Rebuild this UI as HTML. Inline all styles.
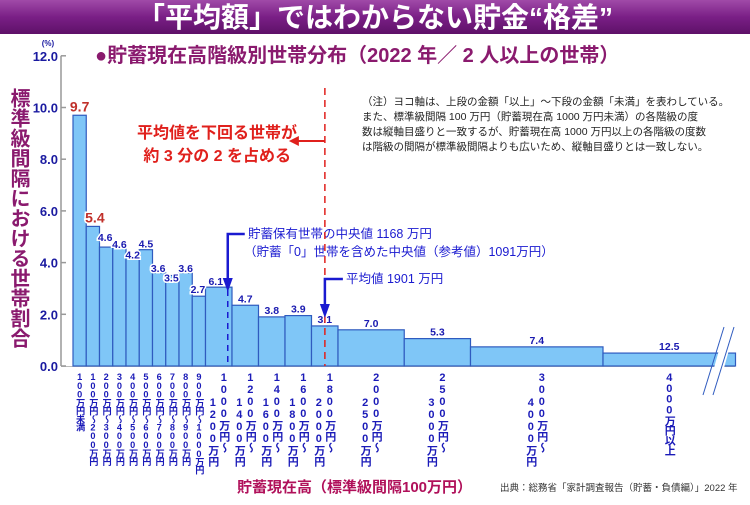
<!DOCTYPE html>
<html><head><meta charset="utf-8"><style>
body{margin:0;width:750px;height:500px;background:#fff;overflow:hidden;font-family:"Liberation Sans","Noto Sans CJK JP",sans-serif;}
svg text{font-family:"Liberation Sans","Noto Sans CJK JP",sans-serif;}
</style></head><body>
<svg id="chart" width="750" height="500" viewBox="0 0 750 500" xmlns="http://www.w3.org/2000/svg">
<defs>
<linearGradient id="bg" x1="0" y1="0" x2="0" y2="1"><stop offset="0" stop-color="#a04aa8"/><stop offset="0.5" stop-color="#7a1f86"/><stop offset="1" stop-color="#5e1168"/></linearGradient>
</defs>
<rect x="0" y="0" width="750" height="34" fill="url(#bg)"/>
<text x="375" y="27" text-anchor="middle" font-size="28" font-weight="bold" fill="#fff">「平均額」ではわからない貯金“格差”</text>
<text x="95" y="62" font-size="20" font-weight="bold" fill="#8a1a6e">●貯蓄現在高階級別世帯分布（2022 年／ 2 人以上の世帯）</text>
<text x="48" y="46" font-size="8" font-weight="bold" fill="#1a1aa0" text-anchor="middle">(%)</text>
<text x="18" y="88" font-size="20" font-weight="bold" fill="#8a1a6e" style="writing-mode:vertical-rl;letter-spacing:0px">標準級間隔における世帯割合</text>
<g font-size="10.5" fill="#222">
<text x="362" y="105">（注）ヨコ軸は、上段の金額「以上」～下段の金額「未満」を表わしている。</text>
<text x="362" y="120">また、標準級間隔 100 万円（貯蓄現在高 1000 万円未満）の各階級の度</text>
<text x="362" y="135">数は縦軸目盛りと一致するが、貯蓄現在高 1000 万円以上の各階級の度数</text>
<text x="362" y="150">は階級の間隔が標準級間隔よりも広いため、縦軸目盛りとは一致しない。</text>
</g>
<g id="axes"></g>
<g id="bars"></g>
<g id="labels"></g>
<g id="xlabels"></g>
<g>
<text x="297" y="138" text-anchor="end" font-size="16" font-weight="bold" fill="#e0201c">平均値を下回る世帯が</text>
<text x="291" y="161" text-anchor="end" font-size="16" font-weight="bold" fill="#e0201c">約 3 分の 2 を占める</text>
<text x="248" y="238" font-size="12.5" fill="#1a1ad0">貯蓄保有世帯の中央値 1168 万円</text>
<text x="244" y="256" font-size="12.5" fill="#1a1ad0">（貯蓄「0」世帯を含めた中央値（参考値）1091万円）</text>
<text x="346" y="283" font-size="12.5" fill="#1a1ad0">平均値 1901 万円</text>
</g>
<text x="237" y="492" font-size="15" font-weight="bold" fill="#b0105a">貯蓄現在高（標準級間隔100万円）</text>
<text x="500" y="491" font-size="9.5" fill="#333">出典：総務省「家計調査報告（貯蓄・負債編）」2022 年</text>
</svg>
<script>
const categories=["100万円未満","100万円〜200万円","200万円〜300万円","300万円〜400万円","400万円〜500万円","500万円〜600万円","600万円〜700万円","700万円〜800万円","800万円〜900万円","900万円〜1000万円","1000万円〜1200万円","1200万円〜1400万円","1400万円〜1600万円","1600万円〜1800万円","1800万円〜2000万円","2000万円〜2500万円","2500万円〜3000万円","3000万円〜4000万円","4000万円以上"];
const lows=[0,100,200,300,400,500,600,700,800,900,1000,1200,1400,1600,1800,2000,2500,3000,4000];
const highs=[100,200,300,400,500,600,700,800,900,1000,1200,1400,1600,1800,2000,2500,3000,4000,5000];
const values=[9.7,5.4,4.6,4.6,4.2,4.5,3.6,3.5,3.6,2.7,6.1,4.7,3.8,3.9,3.1,7.0,5.3,7.4,12.5];
const intervalUnits=[1,1,1,1,1,1,1,1,1,1,2,2,2,2,2,5,5,10,25];
const yTicks=["0.0","2.0","4.0","6.0","8.0","10.0","12.0"];
const meanValue=1901, medianValue=1168;
const labelStyleDx=[0,2,-1,0,0,0,-1,-1,0,-1,-3,0,0,0,0,0,0,0,0];
const labelStyleDy=[0,0,-3,4,4,1,2,9,2,0,1,0,0,0,0,0,0,0,0];
const NS="http://www.w3.org/2000/svg";
const x=v=>73+v*0.1325;
const y=v=>366-v*25.85;
function mk(tag,attrs,parent,txt){const e=document.createElementNS(NS,tag);for(const k in attrs)e.setAttribute(k,attrs[k]);if(txt!==undefined)e.textContent=txt;parent.appendChild(e);return e;}
const axes=document.getElementById('axes');
let ax=mk('line',{x1:61,y1:y(12),x2:61,y2:366,stroke:'#999','stroke-width':1.5},axes);


let bl=mk('line',{x1:61,y1:366.5,x2:735,y2:366.5,stroke:'#bbb','stroke-width':1},axes);


yTicks.forEach(t=>{const v=parseFloat(t);
 let tk=mk('line',{x1:61,y1:y(v),x2:66,y2:y(v),stroke:'#999','stroke-width':1.5},axes);
 
 
 let tl=mk('text',{x:58,y:y(v)+5,'text-anchor':'end','font-size':13,'font-weight':'bold',fill:'#1a1aa0'},axes,t);
 
 
});
const bars=document.getElementById('bars'), labels=document.getElementById('labels'), xl=document.getElementById('xlabels');
values.forEach((v,i)=>{const h=v/intervalUnits[i];const x0=x(lows[i]),x1=x(highs[i]);
 let r=mk('rect',{x:x0,y:y(h),width:x1-x0,height:366-y(h),fill:'#7fc6f7',stroke:'#2f5bbf','stroke-width':1.2},bars);
 
 
 const big=i<2;
 let t=mk('text',{x:(x0+x1)/2+labelStyleDx[i],y:y(h)-(big?4:3)+labelStyleDy[i],'text-anchor':'middle','font-size':big?14:10.5,'font-weight':'bold',fill:big?'#c0302a':'#1a1ab0',stroke:'#fff','stroke-width':3,'paint-order':'stroke'},labels,v.toFixed(1));
 
 
 const c=categories[i];const parts=c.split('〜');const narrow=i<10;
 const cx=(x0+x1)/2;const fs=narrow?9.2:11;
 if(parts.length===1||narrow){
  let lt=mk('text',{x:cx,y:372,'font-size':fs,'font-weight':'bold',fill:'#1a1ab8',style:'writing-mode:vertical-rl;text-orientation:upright;letter-spacing:-1.2px'},xl,c);
  
  
 }else{
  let a=mk('text',{x:cx+5,y:372,'font-size':fs,'font-weight':'bold',fill:'#1a1ab8',style:'writing-mode:vertical-rl;text-orientation:upright;letter-spacing:0px'},xl,parts[0]+'〜');
  
  
  let b=mk('text',{x:cx-6,y:397,'font-size':fs,'font-weight':'bold',fill:'#1a1ab8',style:'writing-mode:vertical-rl;text-orientation:upright;letter-spacing:0px'},xl,parts[1]);
  
  
 }
});
const svg=document.getElementById('chart');
let br=mk('polygon',{points:'705,400 715,400 736,325 726,325',fill:'#fff'},svg);


mk('line',{x1:703,y1:395,x2:724,y2:327,stroke:'#2f5bbf','stroke-width':1},svg);
mk('line',{x1:713,y1:395,x2:734,y2:327,stroke:'#2f5bbf','stroke-width':1},svg);
const mx=x(meanValue), mdx=x(medianValue);
let ml=mk('line',{x1:mx,y1:88,x2:mx,y2:366,stroke:'#e0201c','stroke-width':1.5,'stroke-dasharray':'7,5'},svg);


let ra=mk('path',{d:`M${mx},141 L${mx-28},141`,stroke:'#e0201c','stroke-width':2,fill:'none'},svg);


mk('polygon',{points:`${mx-36},141 ${mx-26},136 ${mx-26},146`,fill:'#e0201c'},svg);
let md=mk('line',{x1:mdx,y1:290,x2:mdx,y2:366,stroke:'#1a1ad0','stroke-width':1.5,'stroke-dasharray':'6,5'},svg);


let mda=mk('path',{d:`M${mdx+17},234 L${mdx},234 L${mdx},280`,stroke:'#1a1ad0','stroke-width':2.5,fill:'none'},svg);


mk('polygon',{points:`${mdx-5},278 ${mdx+5},278 ${mdx},292`,fill:'#1a1ad0'},svg);
let mna=mk('path',{d:`M${mx+18},279 L${mx},279 L${mx},306`,stroke:'#1a1ad0','stroke-width':2.5,fill:'none'},svg);


mk('polygon',{points:`${mx-5},304 ${mx+5},304 ${mx},318`,fill:'#1a1ad0'},svg);
</script>
</body></html>
